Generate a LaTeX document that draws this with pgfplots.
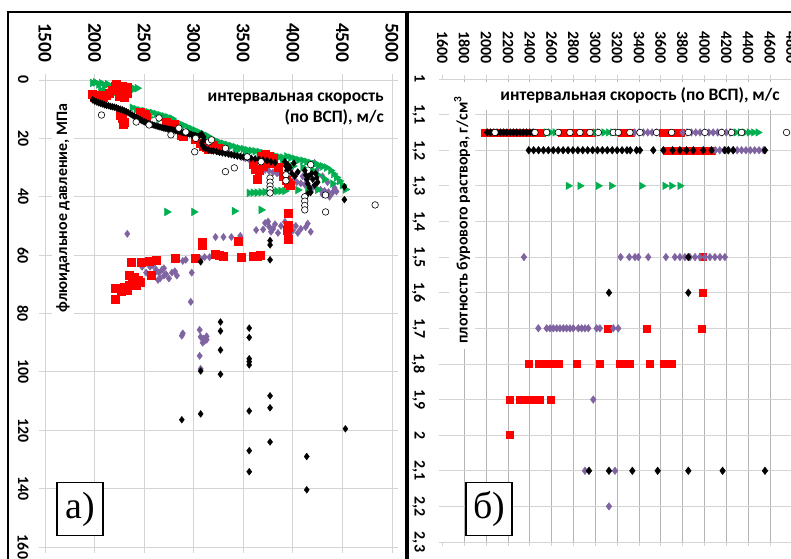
\documentclass[border=0pt]{standalone}
\usepackage{fontspec}
\setmainfont{Carlito}
\newfontfamily\lserif{Liberation Serif}
\usepackage{pgfplots}
\pgfplotsset{compat=1.18}
\definecolor{gA}{HTML}{D4D4D4}
\definecolor{gV}{HTML}{B4B4B4}
\definecolor{cG}{HTML}{00B050}
\definecolor{cR}{HTML}{FF0000}
\definecolor{cP}{HTML}{8064A2}
\pgfplotsset{
  sG/.style={only marks, mark=triangle*, mark options={rotate=-90, fill=cG, draw=cG}},
  sR/.style={only marks, mark=square*, mark options={fill=cR, draw=cR}},
  sP/.style={only marks, mark=diamond*, mark options={fill=cP, draw=cP}},
  sK/.style={only marks, mark=diamond*, mark options={fill=black, draw=black}},
  sW/.style={only marks, mark=*, mark options={fill=white, draw=black, line width=0.6bp}},
}
\begin{document}
\begin{tikzpicture}
\useasboundingbox (0,0) rectangle (791bp,-559bp);
\clip (0,0) rectangle (791bp,-559bp);
\fill[white] (0,0) rectangle (791bp,-559bp);
% ---------------- panel a ----------------
\begin{axis}[
  at={(45bp,-80bp)}, anchor=north west,
  width=347bp, height=467bp, scale only axis,
  xmin=1500, xmax=5000, ymin=0, ymax=160, y dir=reverse,
  xticklabel pos=upper,
  xtick={1500,2000,2500,3000,3500,4000,4500,5000},
  xticklabels={1500,2000,2500,3000,3500,4000,4500,5000},
  ytick={0,20,40,60,80,100,120,140,160},
  yticklabels={0,20,40,60,80,100,120,140,160},
  grid=major, grid style={draw=gA, line width=0.8bp},
  axis line style={draw=gA, line width=0.8bp},
  tick style={draw=gA, line width=0.8bp},
  tick align=outside, major tick length=6bp,
  xticklabel shift=8bp, yticklabel shift=7bp,
  xticklabel style={rotate=-90, anchor=east, font=\bfseries\fontsize{19.5}{19.5}\selectfont},
  yticklabel style={rotate=-90, anchor=north, font=\bfseries\fontsize{16}{16}\selectfont},
  clip=true,
]
\addplot[sP, mark size=3.6bp] coordinates {
(3240,23.4)(3280,24.2)(3320,24.8)(3360,25.2)(3400,25.6)(3440,26.0)(3480,26.4)(3520,26.8)(3560,27.2)(3600,27.6)(3640,29.8)(3680,30.4)(3720,30.8)(3760,31.2)(3800,31.6)(3840,32.0)(3880,32.6)(3920,33.2)(3960,33.8)(4000,34.4)(4040,35.0)(4080,35.4)(4120,35.8)(4160,36.4)(4200,36.8)(4240,37.2)(4280,37.6)(4320,38.0)(4360,38.4)(4400,38.6)(4440,38.2)(4220,28.4)(4260,29.6)(4240,31.0)(4100,33.0)(4140,34.2)(4180,38.2)(4300,39.2)(4370,40.0)(4420,37.0)(4040,32.0)(3980,30.5)(4300,33.0)(4350,35.0)
(2330,52.7)(3220,53.8)(3300,53.8)(3380,53.8)(3470,53.4)(3630,51.4)(3720,49.0)(3760,50.2)(3800,51.0)(3850,52.4)(3780,52.0)(3700,51.2)(3920,48.6)(3980,49.6)(4030,50.0)(4080,51.0)(4130,50.4)(4180,52.0)(4000,51.6)(4050,52.4)(3880,50.0)(3820,49.4)(4150,49.2)(3750,48.5)
(2920,61.6)(2890,62.0)(3070,61.3)(3110,60.7)(3160,60.7)(2980,66.0)(2970,76.0)(2530,62.7)(2560,64.0)(2590,63.5)(2620,65.0)(2650,66.0)(2680,65.0)(2700,67.0)(2720,66.5)(2750,68.0)(2780,66.0)(2810,65.5)(2830,67.0)(2600,66.5)(2640,68.5)(2560,67.0)(2700,64.5)(2480,64.0)(2520,66.0)(2660,68.0)
(2890,86.8)(2880,87.6)(3060,85.6)(3070,88.0)(3100,88.6)(3130,89.0)(3090,90.0)(3110,89.4)(3130,87.8)(3060,94.5)(3070,99.0)
};
\addplot[sG, mark size=4.5bp] coordinates {
(1980,1.0)(2010,0.8)(2040,1.5)(2070,1.1)(2100,2.0)(2130,1.4)(2160,2.2)(2200,1.8)(2240,2.5)(2280,2.2)(2320,2.8)(2360,2.5)(2400,3.0)(2430,2.8)(2060,3.4)(2110,4.0)(2160,3.6)(2200,4.4)
(2380,9.5)(2420,10.0)(2460,10.4)(2500,10.6)(2540,11.0)(2580,11.2)(2620,11.6)(2660,12.0)(2700,12.4)(2740,12.8)(2780,13.2)(2450,12.0)(2550,12.8)(2650,13.4)(2720,14.0)
(2820,14.4)(2860,15.0)(2900,15.6)(2940,16.2)(2980,16.8)(3020,17.4)(3060,18.0)(3100,18.6)(3140,19.2)(2960,18.2)(3040,19.4)
(3180,20.2)(3220,20.8)(3260,21.4)(3300,21.8)(3340,22.2)(3380,22.6)(3420,23.0)(3460,23.4)(3500,23.6)(3540,24.0)(3580,24.2)(3620,24.4)(3320,23.4)(3420,24.4)(3520,25.2)
(3660,24.6)(3700,25.0)(3740,25.4)(3780,25.8)(3820,26.0)(3860,26.4)(3900,26.6)(3940,26.2)(3980,26.6)(4020,27.0)(4060,27.4)(4100,27.6)(4140,28.0)(4180,28.4)(4220,28.8)(4260,29.2)(4300,29.6)(4340,30.0)(4380,31.0)(4410,32.2)(4440,33.4)(4470,34.6)(4500,36.0)(4530,37.5)(4250,32.5)(4320,34.0)(4400,35.5)(4200,31.0)(4100,30.0)(4000,29.5)(3900,28.5)(3800,28.0)
(3560,38.7)(3600,38.6)(3640,38.6)(3680,38.5)(3720,38.4)(3760,38.3)(3800,38.2)(3840,38.1)(3880,38.0)(3920,38.0)(4050,37.7)(4150,37.5)(4250,37.6)
(2730,45.2)(3000,45.2)(3410,44.9)(3680,44.5)
};
\addplot[sR, mark size=4bp] coordinates {
(1975,5.0)(2000,5.8)(2030,5.2)(2060,5.6)(2090,5.9)(2120,5.2)(2150,4.4)(2180,3.6)(2210,2.0)(2240,2.6)(2270,3.2)(2300,3.6)(2330,4.4)(2250,5.4)(2300,5.8)(2220,1.6)(2280,2.0)(2330,2.6)
(2260,12.0)(2280,13.2)(2300,14.4)(2290,15.2)(2460,11.0)(2510,11.6)(2520,12.6)(2720,14.6)(2760,15.2)(2800,15.0)(2870,18.8)(2890,19.4)(3010,20.2)(3070,21.6)(3100,22.6)(3150,23.8)(3130,23.0)(3200,22.4)(3250,23.2)(3270,24.2)
(3600,29.0)(3620,30.4)(3660,31.0)(3680,26.0)(3720,25.4)(3760,26.2)(3800,26.8)(3780,28.4)(3700,29.5)(3850,29.8)(3900,33.0)(3930,34.2)(3950,35.5)(3970,36.2)(3640,34.0)
(3950,45.5)(3950,49.6)(3950,50.6)(3940,51.4)(3950,54.5)(3090,55.4)(3090,56.6)(3450,55.1)(3220,59.6)(3260,59.9)(3300,60.2)(3480,60.6)(3600,60.4)(3640,60.2)(3670,60.0)(3020,61.0)(2810,61.0)(2370,62.3)(2470,62.3)(2550,62.0)(2620,61.6)(2570,66.8)(2350,67.0)(2400,67.5)(2440,68.5)(2460,69.2)(2380,69.6)(2300,70.9)(2350,70.4)(2420,70.2)(2210,71.2)(2210,75.0)(2330,72.0)(2270,72.4)
};
\addplot[sK, mark size=3.4bp] coordinates {
(1980,6.8)(2000,7.2)(2020,7.5)(2040,7.8)(2060,8.0)(2080,8.2)(2100,8.5)(2120,8.7)(2140,8.8)(2160,9.0)(2180,9.2)(2200,9.3)(2220,9.5)(2240,9.8)(2260,10.0)(2280,10.2)(2300,10.5)(2320,10.8)(2340,11.2)(2360,11.6)(2380,12.0)(2400,12.4)(2420,12.8)(2440,13.2)(2460,13.6)(2480,14.0)(2500,14.3)(2520,14.6)(2540,14.9)(2560,15.1)(2580,15.3)(2600,15.5)(2620,15.7)(2640,15.9)(2660,16.1)(2680,16.3)(2700,16.5)(2720,16.6)(2740,16.8)(2760,16.9)(2780,17.0)(2800,17.2)(2820,17.4)(2840,17.6)(2860,17.8)(2880,18.0)(2900,18.1)(2920,18.2)(2940,18.4)(2960,18.5)(2980,18.7)(3000,18.9)(3020,19.1)(3040,19.3)(3060,19.0)(3080,18.5)(3100,19.5)(3100,20.5)(3080,21.5)(3090,22.5)(3100,23.0)(3120,23.5)(3150,24.0)(3180,24.2)(3200,24.3)(3230,24.5)(3260,24.8)(3290,25.0)(3320,25.2)(3350,25.4)(3380,25.6)(3410,25.8)(3440,26.0)(3470,26.2)(3500,26.4)(3540,26.6)(3580,26.8)(3620,27.0)(3660,27.2)(3700,27.4)(3740,27.6)(3780,28.0)(3820,28.3)
(3920,28.0)(3930,29.5)(3940,31.0)(3950,29.0)(3970,30.0)(3990,32.0)(4010,28.5)(4020,33.0)(4050,31.5)(4120,31.0)(4130,32.5)(4140,34.0)(4150,35.5)(4160,33.0)(4170,37.0)(4180,38.5)(4150,39.0)(4200,34.0)(4230,32.0)(4240,33.5)(4250,35.0)(4220,36.0)(4190,32.0)(4520,36.6)(4520,41.0)
(3770,55.0)(3770,56.5)(3770,61.6)(3070,62.3)(3270,82.9)(3270,86.0)(3270,92.5)(3270,100.8)(3070,99.7)(3560,85.0)(3560,88.2)(3560,95.5)(3560,96.5)(3560,97.6)(3560,113.4)(3070,114.4)(2880,116.4)(3770,108.2)(3770,112.3)(3770,124.0)(3560,127.0)(3560,134.2)(4140,129.0)(4140,140.4)(4530,119.5)
};
\addplot[sW, mark size=3.3bp] coordinates {
(2070,12.0)(2420,14.4)(2550,15.4)(2650,13.0)(2770,18.8)(2850,16.5)(2920,17.8)(3020,20.0)(3010,24.6)(3150,21.2)(3180,20.5)(3320,23.4)(3320,31.4)(3410,30.1)(3540,26.3)(3680,28.0)(3770,33.6)(3770,35.0)(3770,36.3)(3770,37.5)(3770,38.7)(3930,32.5)(3930,34.5)(4180,29.0)(4120,40.0)(4120,41.5)(4120,43.0)(4120,44.5)(4330,39.4)(4330,45.2)(4830,42.8)
};
\end{axis}
% ---------------- panel b ----------------
\begin{axis}[
  at={(442.5bp,-79bp)}, anchor=north west,
  width=349.3bp, height=463bp, scale only axis,
  xmin=1600, xmax=4800, ymin=1, ymax=2.3, y dir=reverse,
  xticklabel pos=upper,
  xtick={1800,2000,2200,2400,2600,2800,3000,3200,3400,3600,3800,4000,4200,4400,4600,4800},
  xticklabels={1800,2000,2200,2400,2600,2800,3000,3200,3400,3600,3800,4000,4200,4400,4600,4800},
  extra x ticks={1600}, extra x tick labels={1600}, extra x tick style={grid=none},
  ytick={1,1.1,1.2,1.3,1.4,1.5,1.6,1.7,1.8,1.9,2,2.1,2.2,2.3},
  yticklabels={1,{1,1},{1,2},{1,3},{1,4},{1,5},{1,6},{1,7},{1,8},{1,9},2,{2,1},{2,2},{2,3}},
  grid=major, x grid style={draw=gV, line width=0.8bp}, y grid style={draw=gA, line width=0.8bp},
  axis line style={draw=none},
  tick style={draw=gA, line width=0.8bp},
  tick align=outside, major tick length=4bp,
  xticklabel shift=8bp, yticklabel shift=10bp,
  xticklabel style={rotate=-90, anchor=east, font=\bfseries\fontsize{16}{16}\selectfont},
  yticklabel style={rotate=-90, anchor=north, font=\bfseries\fontsize{16}{16}\selectfont},
  clip=true,
]
\addplot[sR, mark size=3.5bp] coordinates {
(1990,1.15)(2030,1.15)(2070,1.15)(2110,1.15)(2150,1.15)(2190,1.15)(2230,1.15)(2270,1.15)(2310,1.15)(2350,1.15)(2390,1.15)(2430,1.15)(2470,1.15)(2510,1.15)(2690,1.15)(2730,1.15)(2770,1.15)(2810,1.15)(2850,1.15)(2890,1.15)(2930,1.15)(2970,1.15)(3240,1.15)(3280,1.15)(3320,1.15)(3620,1.15)(3660,1.15)(3700,1.15)(3740,1.15)(3780,1.15)
(3653,1.2)(3683,1.2)(3750,1.2)(3790,1.2)(3830,1.2)(3870,1.2)(3910,1.2)(3950,1.2)(3990,1.2)(4030,1.2)(4070,1.2)
(3980,1.5)(3980,1.6)(3110,1.7)(3470,1.7)(3974,1.7)
(2386,1.8)(2478,1.8)(2508,1.8)(2585,1.8)(2630,1.8)(2661,1.8)(2829,1.8)(3042,1.8)(3226,1.8)(3271,1.8)(3317,1.8)(3500,1.8)(3623,1.8)(3668,1.8)(3699,1.8)
(2218,1.9)(2310,1.9)(2340,1.9)(2371,1.9)(2401,1.9)(2432,1.9)(2462,1.9)(2487,1.9)(2590,1.9)
(2218,2.0)
};
\addplot[sG, mark size=4.3bp] coordinates {
(2550,1.15)(2590,1.15)(2630,1.15)(3000,1.15)(3040,1.15)(3080,1.15)(3120,1.15)(3160,1.15)(3200,1.15)(4250,1.15)(4290,1.15)(4330,1.15)(4370,1.15)(4410,1.15)(4450,1.15)(4490,1.15)
(2752,1.3)(2859,1.3)(3027,1.3)(3149,1.3)(3424,1.3)(3638,1.3)(3699,1.3)(3775,1.3)
};
\addplot[sP, mark size=3.8bp] coordinates {
(3360,1.15)(3400,1.15)(3440,1.15)(3480,1.15)(3520,1.15)(3560,1.15)(3800,1.15)(3840,1.15)(3880,1.15)(3920,1.15)(3960,1.15)(4000,1.15)(4040,1.15)(4080,1.15)(4120,1.15)(4160,1.15)(4200,1.15)(4240,1.15)
(4100,1.2)(4140,1.2)(4180,1.2)(4220,1.2)(4260,1.2)(4300,1.2)(4340,1.2)(4380,1.2)(4420,1.2)(4460,1.2)(4500,1.2)(4540,1.2)
(2346,1.5)(3232,1.5)(3311,1.5)(3363,1.5)(3394,1.5)(3485,1.5)(3647,1.5)(3729,1.5)(3775,1.5)(3821,1.5)(3867,1.5)(3913,1.5)(3958,1.5)(4004,1.5)(4050,1.5)(4096,1.5)(4142,1.5)(4187,1.5)
(2478,1.7)(2554,1.7)(2585,1.7)(2615,1.7)(2646,1.7)(2676,1.7)(2707,1.7)(2737,1.7)(2768,1.7)(2798,1.7)(2844,1.7)(2875,1.7)(2905,1.7)(2936,1.7)(3012,1.7)(3042,1.7)(3165,1.7)(3210,1.7)
(2981,1.9)(2905,2.1)(3180,2.1)(3125,2.2)
};
\addplot[sK, mark size=3.8bp] coordinates {
(2010,1.15)(2040,1.15)(2070,1.15)(2100,1.15)(2130,1.15)(2160,1.15)(2190,1.15)(2220,1.15)(2250,1.15)(2280,1.15)(2310,1.15)(2340,1.15)(2370,1.15)(2400,1.15)(2430,1.15)
(2390,1.2)(2435,1.2)(2480,1.2)(2525,1.2)(2570,1.2)(2615,1.2)(2660,1.2)(2705,1.2)(2750,1.2)(2795,1.2)(2840,1.2)(2885,1.2)(2930,1.2)(2975,1.2)(3020,1.2)(3065,1.2)(3110,1.2)(3155,1.2)(3200,1.2)(3245,1.2)(3290,1.2)(3320,1.2)(3378,1.2)(3409,1.2)(3531,1.2)(3623,1.2)(3708,1.2)(3775,1.2)(3836,1.2)(3897,1.2)(3989,1.2)(4065,1.2)(4187,1.2)(4218,1.2)(4264,1.2)(4554,1.2)
(3852,1.5)(3125,1.6)(3852,1.6)
(2942,2.1)(3125,2.1)(3339,2.1)(3571,2.1)(3852,2.1)(4166,2.1)(4554,2.1)
};
\addplot[sW, mark size=3.3bp] coordinates {
(2081,1.15)(2447,1.15)(2554,1.15)(2661,1.15)(2768,1.15)(2859,1.15)(2951,1.15)(3027,1.15)(3165,1.15)(3210,1.15)(3317,1.15)(3409,1.15)(3561,1.15)(3699,1.15)(3852,1.15)(4004,1.15)(4157,1.15)(4248,1.15)(4340,1.15)(4752,1.15)
};
\end{axis}
% ---------------- labels ----------------
\node[rotate=90, fill=white, inner sep=4bp, font=\bfseries\fontsize{16}{16}\selectfont] at (63bp,-208bp) {флюидальное давление, МПа};
\node[anchor=north east, align=right, fill=white, inner sep=3bp, font=\bfseries\fontsize{17.5}{21}\selectfont] at (387bp,-90bp) {интервальная скорость\\(по ВСП), м/с};
\fill[white] (440bp,-82bp) rectangle (791bp,-110bp);
\node[font=\bfseries\fontsize{17.5}{17.5}\selectfont] at (640bp,-95bp) {интервальная скорость (по ВСП), м/с};
\node[rotate=90, fill=white, inner sep=5bp, font=\bfseries\fontsize{16}{16}\selectfont] at (462bp,-220bp) {плотность бурового раствора, г/см\textsuperscript{3}};
\node[draw, line width=1.2bp, fill=white, minimum width=46bp, minimum height=53bp, inner sep=0pt, font=\lserif\fontsize{38}{38}\selectfont] at (80bp,-509bp) {а)};
\node[draw, line width=1.2bp, fill=white, minimum width=46bp, minimum height=53bp, inner sep=0pt, font=\lserif\fontsize{38}{38}\selectfont] at (489bp,-509bp) {б)};
% frames
\draw[line width=1.3bp] (8bp,-12bp) rectangle (406bp,-620bp);
\draw[line width=1.3bp] (408bp,-12bp) rectangle (900bp,-620bp);
\end{tikzpicture}
\end{document}
